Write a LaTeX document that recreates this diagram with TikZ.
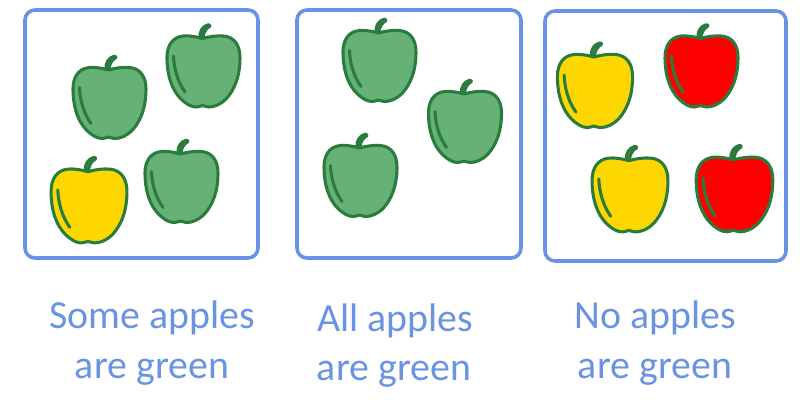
\documentclass[tikz,border=0pt]{standalone}
\usepackage{fontspec}
\setmainfont{Carlito}
\definecolor{panelblue}{HTML}{6A93E3}
\definecolor{applegreen}{HTML}{66B276}
\definecolor{applestroke}{HTML}{2A7B3E}
\definecolor{appleyellow}{HTML}{FFD700}
\definecolor{applered}{HTML}{FF0000}
\tikzset{
  panel/.style={draw=panelblue,line width=2.7pt,rounded corners=7.5pt},
  caption/.style={text=panelblue,font=\fontsize{29.9}{32}\selectfont,anchor=base,inner sep=0pt},
  appleline/.style={draw=applestroke,line width=2.3pt,line cap=round,line join=round},
}
\newcommand{\apple}[4]{%
  \begin{scope}[shift={(#1,#2)},scale=#4]
    \path[appleline,fill=#3] (-1,-33)
      .. controls (-8,-35) and (-15,-36) .. (-20,-35.5)
      .. controls (-31,-34.5) and (-36.5,-26) .. (-36.5,-14)
      .. controls (-36.5,5) and (-31,19) .. (-23,27)
      .. controls (-17,33) and (-12,35.5) .. (-7,35.5)
      .. controls (-4,35.5) and (-2.5,34) .. (-1,34)
      .. controls (0.5,34) and (2,35.5) .. (5,35.5)
      .. controls (11,35.5) and (17,33) .. (23,27)
      .. controls (31,18) and (36.5,5) .. (36.5,-14)
      .. controls (36.5,-26) and (31,-34.5) .. (20,-35.5)
      .. controls (13,-36) and (6,-35) .. (-1,-33) -- cycle;
    \path[appleline,fill=applestroke!55!#3] (-3.5,-34)
      .. controls (-4,-40) and (-1,-45) .. (4,-46.5)
      .. controls (5.5,-47) and (6.5,-46.5) .. (6.5,-45.5)
      .. controls (2,-43) and (0,-39) .. (-0.5,-34) -- cycle;
    \path[appleline] (-30,-15.5) .. controls (-29.5,-3) and (-26,10) .. (-18.5,20.5);
  \end{scope}}
\begin{document}
\begin{tikzpicture}[x=0.75pt,y=-0.75pt]
  \useasboundingbox (0,0) rectangle (800,404);
  \apple{109.5}{103}{applegreen}{1}
  \apple{203.5}{71.5}{applegreen}{1}
  \apple{89}{206}{appleyellow}{1.04}
  \apple{181.5}{187}{applegreen}{1}
  \apple{379.5}{66}{applegreen}{1}
  \apple{465}{127}{applegreen}{1}
  \apple{360.5}{181}{applegreen}{1}
  \apple{595}{91}{appleyellow}{1.03}
  \apple{701.5}{71.5}{applered}{1}
  \apple{630}{195}{appleyellow}{1.04}
  \apple{734.5}{194.5}{applered}{1.05}
  \draw[panel] (25,10) rectangle (258,258);
  \draw[panel] (297,10) rectangle (521,258);
  \draw[panel] (545,11) rectangle (786,261);
  \node[caption] (some) at (152,328) {Some apples};
  \node[caption] (somegreen) at (152,378) {are green};
  \node[caption] (all) at (395,331) {All apples};
  \node[caption] (allgreen) at (394,380) {are green};
  \node[caption] (no) at (655,328) {No apples};
  \node[caption] (nogreen) at (655,378) {are green};
\end{tikzpicture}
\end{document}
